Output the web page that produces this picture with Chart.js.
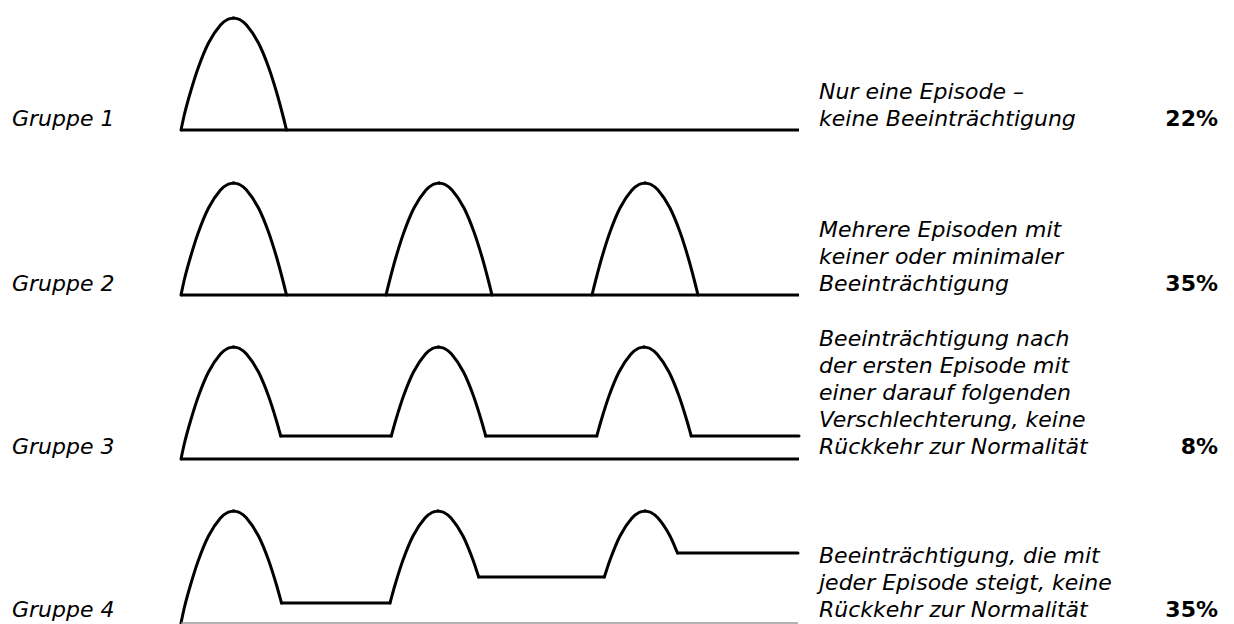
<!DOCTYPE html>
<html lang="de">
<head>
  <meta charset="UTF-8" />
  <title>Verlaufsgruppen</title>
  <script src="https://cdn.jsdelivr.net/npm/chart.js"></script>
  <style>
    body { margin: 0; width: 1234px; height: 624px; overflow: hidden; background: #fff; position: relative;
           font-family: "DejaVu Sans", "Liberation Sans", sans-serif; color: #000; }
    canvas { position: absolute; }
    .txt { position: absolute; font-size: 22px; line-height: 27px; white-space: nowrap; }
    .kursiv { font-style: italic; }
    .anteil { font-weight: bold; text-align: right; }
  </style>
</head>
<body>
<script>
  // Beschriftungen
  const gruppen = ["Gruppe 1", "Gruppe 2", "Gruppe 3", "Gruppe 4"];
  const beschreibung = [
    ["Nur eine Episode –", "keine Beeinträchtigung"],
    ["Mehrere Episoden mit", "keiner oder minimaler", "Beeinträchtigung"],
    ["Beeinträchtigung nach", "der ersten Episode mit", "einer darauf folgenden", "Verschlechterung, keine", "Rückkehr zur Normalität"],
    ["Beeinträchtigung, die mit", "jeder Episode steigt, keine", "Rückkehr zur Normalität"]
  ];
  const anteile = [22, 35, 8, 35];

  // Verlauf je Gruppe: x = Zeit, y = Symptomstärke / Beeinträchtigung
  const zeitEnde = 618;

  const g1Episoden = [
    [[0,0],[3.5,16],[9.5,38],[17.5,63],[27.5,87],[39.5,105],[46.5,110.5],[52.5,112],[58.5,110.5],[65.5,105],[77.5,87],[87.5,63],[95.5,38],[101.5,16],[105.5,0]]
  ];
  const g1Plateaus = [];

  const g2Episoden = [
    [[0,0],[3.5,16],[9.5,38],[17.5,63],[27.5,87],[39.5,105],[46.5,110.5],[52.5,112],[58.5,110.5],[65.5,105],[77.5,87],[87.5,63],[95.5,38],[101.5,16],[105.5,0]],
    [[205,0],[209,16],[215,38],[223,63],[233,87],[245,105],[252,110.5],[258,112],[264,110.5],[271,105],[283,87],[293,63],[301,38],[307,16],[311,0]],
    [[411,0],[415,16],[421,38],[429,63],[439,87],[451,105],[458,110.5],[464,112],[470,110.5],[477,105],[489,87],[499,63],[507,38],[513,16],[517,0]]
  ];
  const g2Plateaus = [];

  const g3Episoden = [
    [[0,0],[3.5,16],[9.5,38],[17.5,63],[27.5,87],[39.5,105],[46.5,110.5],[52.5,112],[58.5,110.5],[65.5,105],[77.5,87],[87.5,63],[95.5,38],[99.7,23]],
    [[210.3,23],[214.5,38],[222.5,63],[232.5,87],[244.5,105],[251.5,110.5],[257.5,112],[263.5,110.5],[270.5,105],[282.5,87],[292.5,63],[300.5,38],[304.7,23]],
    [[415.8,23],[420,38],[428,63],[438,87],[450,105],[457,110.5],[463,112],[469,110.5],[476,105],[488,87],[498,63],[506,38],[510.2,23]]
  ];
  const g3Plateaus = [[99.7,210.3,23],[304.7,415.8,23],[510.2,618,23]];

  const g4Episoden = [
    [[0,0],[3.5,16],[9.5,38],[17.5,63],[27.5,87],[39.5,105],[46.5,110.5],[52.5,112],[58.5,110.5],[65.5,105],[77.5,87],[87.5,63],[95.5,38],[100.5,20]],
    [[209,20],[214,38],[222,63],[232,87],[244,105],[251,110.5],[257,112],[263,110.5],[270,105],[282,87],[292,63],[297.7,46]],
    [[423.3,46],[429,63],[439,87],[451,105],[458,110.5],[464,112],[470,110.5],[477,105],[489,87],[496.5,70]]
  ];
  const g4Plateaus = [[100.5,209,20],[297.7,423.3,46],[496.5,617,70]];

  const episoden = [g1Episoden, g2Episoden, g3Episoden, g4Episoden];
  const plateaus = [g1Plateaus, g2Plateaus, g3Plateaus, g4Plateaus];

  // Layout: Grundlinie jeder Zeile und Mitte der letzten Textzeile (px)
  const grundlinieY = [130, 295, 459, 623];
  const textMitteY = [118, 283, 446, 609];

  function textBlock(lines, cls, lastMid, left, right) {
    const d = document.createElement('div');
    d.className = 'txt ' + cls;
    d.innerHTML = lines.join('<br>');
    d.style.top = (lastMid + 13.5 - lines.length * 27) + 'px';
    if (left !== null) d.style.left = left + 'px';
    if (right !== null) d.style.right = right + 'px';
    document.body.appendChild(d);
  }

  const toXY = pts => pts.map(p => ({ x: p[0], y: p[1] }));

  gruppen.forEach((name, i) => {
    textBlock([name], 'kursiv', textMitteY[i], 12, null);
    textBlock(beschreibung[i], 'kursiv', textMitteY[i], 819, null);
    textBlock([anteile[i] + '%'], 'anteil', textMitteY[i], null, 16);

    const cv = document.createElement('canvas');
    cv.width = 640;
    cv.height = 132;
    cv.style.left = '171px';
    cv.style.top = (grundlinieY[i] - 125) + 'px';
    document.body.appendChild(cv);

    const datasets = [];
    // Grundlinie
    datasets.push({
      data: toXY([[0,0],[i === 3 ? 617 : zeitEnde, 0]]),
      borderColor: i === 3 ? '#9a9a9a' : '#000',
      borderWidth: i === 3 ? 1.5 : 3,
      tension: 0
    });
    // Episoden: Anstieg und Abfall getrennt, damit die Spitze leicht spitz bleibt
    episoden[i].forEach(ep => {
      let top = 0;
      ep.forEach((p, k) => { if (p[1] > ep[top][1]) top = k; });
      [ep.slice(0, top + 1), ep.slice(top)].forEach(teil => datasets.push({
        data: toXY(teil), borderColor: '#000', borderWidth: 3,
        cubicInterpolationMode: 'monotone', borderCapStyle: 'round'
      }));
    });
    plateaus[i].forEach(pl => datasets.push({
      data: toXY([[pl[0], pl[2]], [pl[1], pl[2]]]), borderColor: '#000', borderWidth: 3, tension: 0, borderCapStyle: 'round'
    }));
    datasets.forEach(ds => { ds.showLine = true; ds.pointRadius = 0; ds.clip = false; ds.fill = false; });

    new Chart(cv, {
      type: 'scatter',
      data: { datasets },
      options: {
        responsive: false,
        animation: false,
        events: [],
        layout: { padding: { left: 10, right: 10, top: 10, bottom: 7 } },
        plugins: { legend: { display: false }, tooltip: { enabled: false } },
        scales: {
          x: { type: 'linear', display: false, min: 0, max: 620 },
          y: { type: 'linear', display: false, min: 0, max: 115 }
        }
      }
    });
  });
</script>
</body>
</html>
